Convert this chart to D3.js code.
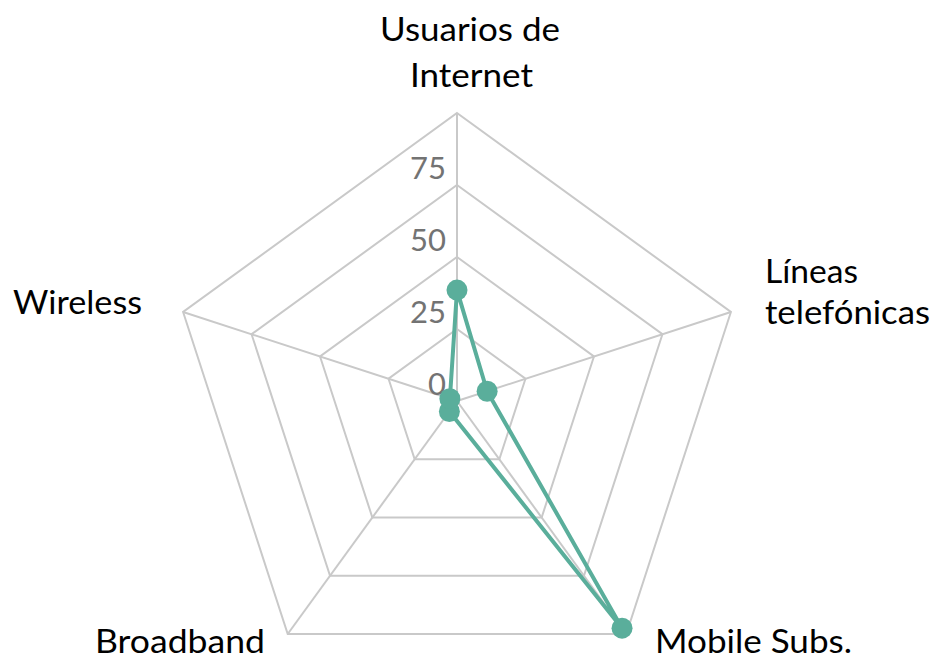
<!DOCTYPE html>
<html>
<head>
<meta charset="utf-8">
<script src="https://cdn.jsdelivr.net/npm/d3@7"></script>
<style>
  html, body { margin: 0; padding: 0; background: #ffffff; }
  svg { display: block; }
  text { font-family: Lato, "Open Sans", "Noto Sans", sans-serif; }
</style>
</head>
<body>
<svg id="chart" width="936" height="659"></svg>
<script>
// ---- data ----
const categories = ["Usuarios de Internet", "Líneas telefónicas", "Mobile Subs.", "Broadband", "Wireless"];
const categoryLines = [["Usuarios de", "Internet"], ["Líneas", "telefónicas"], ["Mobile Subs."], ["Broadband"], ["Wireless"]];
const values = [38.5, 11, 97.5, 4.5, 2.6];
const gridLevels = [0, 25, 50, 75, 100];
const tickLabels = ["0", "25", "50", "75"];

// ---- layout ----
const W = 936, H = 659;
const cx = 457, cy = 401, R = 288;
const svg = d3.select("#chart");

const r = d3.scaleLinear().domain([0, 100]).range([0, R]);
const angle = d3.scalePoint().domain(categories).range([0, 2 * Math.PI * (categories.length - 1) / categories.length]);

function pt(cat, v) {
  const a = angle(cat);
  return [cx + r(v) * Math.sin(a), cy - r(v) * Math.cos(a)];
}

const g = svg.append("g");

// grid pentagons
gridLevels.filter(d => d > 0).forEach(lv => {
  g.append("polygon")
    .attr("points", categories.map(c => pt(c, lv).join(",")).join(" "))
    .attr("fill", "none")
    .attr("stroke", "#c9c9c9")
    .attr("stroke-width", 2);
});

// spokes
categories.forEach(c => {
  const p = pt(c, 100);
  g.append("line")
    .attr("x1", cx).attr("y1", cy)
    .attr("x2", p[0]).attr("y2", p[1])
    .attr("stroke", "#c9c9c9")
    .attr("stroke-width", 2);
});

// tick labels
tickLabels.forEach((t, i) => {
  const v = +t;
  g.append("text")
    .attr("x", cx - 11)
    .attr("y", cy - r(v) - 6)
    .attr("text-anchor", "end")
    .attr("font-size", 31)
    .attr("fill", "#737373")
    .text(t);
});

// series
const line = d3.line().curve(d3.curveLinearClosed);
const pts = categories.map((c, i) => pt(c, values[i]));
g.append("path")
  .attr("d", line(pts))
  .attr("fill", "none")
  .attr("stroke", "#5aae9b")
  .attr("stroke-width", 4)
  .attr("stroke-linejoin", "round");

g.selectAll("circle.pt").data(pts).enter().append("circle")
  .attr("class", "pt")
  .attr("cx", d => d[0]).attr("cy", d => d[1])
  .attr("r", 10.5)
  .attr("fill", "#5aae9b");

// category labels: [x-left, baseline, width] per line
const labelPos = [
  [[380, 41, 180], [410, 87, 123]],
  [[765, 283, 93], [765, 324, 165]],
  [[655, 653, 197]],
  [[95, 653, 170]],
  [[13, 314, 129]]
];
categoryLines.forEach((lines, i) => {
  lines.forEach((s, j) => {
    const [x, y, w] = labelPos[i][j];
    g.append("text")
      .attr("x", x).attr("y", y)
      .attr("font-size", 32)
      .attr("fill", "#000")
      .attr("textLength", w)
      .attr("lengthAdjust", "spacingAndGlyphs")
      .text(s);
  });
});
</script>
</body>
</html>
